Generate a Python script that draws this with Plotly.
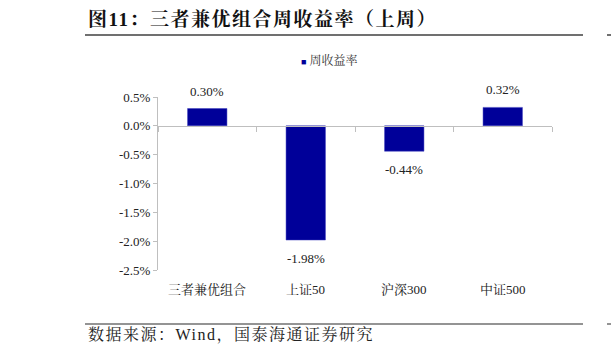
import plotly.graph_objects as go

categories = ["三者兼优组合", "上证50", "沪深300", "中证500"]
returns = [0.30, -1.98, -0.44, 0.32]
labels = ["0.30%", "-1.98%", "-0.44%", "0.32%"]
ytick_vals = [0.5, 0.0, -0.5, -1.0, -1.5, -2.0, -2.5]
ytick_text = ["0.5%", "0.0%", "-0.5%", "-1.0%", "-1.5%", "-2.0%", "-2.5%"]
series_name = "周收益率"
title_text = "图11：三者兼优组合周收益率（上周）"
source_text = "数据来源：Wind，国泰海通证券研究"

W, H = 611, 354
L, R, T, B = 158, 59, 97, 84
pw, ph = W - L - R, H - T - B

def px_x(x):
    return (x - L) / pw

def px_y(y):
    return (H - B - y) / ph

serif = "Liberation Serif, Times New Roman, serif"
cjk = "Liberation Serif, Noto Serif CJK SC, Noto Sans CJK SC, serif"
bar_color = "#000099"

fig = go.Figure()
fig.add_trace(go.Bar(
    x=categories, y=returns, name=series_name,
    marker=dict(color=bar_color, line=dict(color="#3f3fbf", width=0.5)),
    width=0.4, showlegend=False,
))

ymin, ymax = -2.5, 0.5
zero_pos = (0 - ymin) / (ymax - ymin)

fig.update_layout(
    width=W, height=H,
    margin=dict(l=L, r=R, t=T, b=B),
    paper_bgcolor="white", plot_bgcolor="white",
    showlegend=False,
    xaxis=dict(anchor="free", position=zero_pos, showline=True,
               linecolor="#bfbfbf", linewidth=1, ticks="outside",
               tickson="boundaries", ticklen=5, tickcolor="#bfbfbf",
               showticklabels=False, showgrid=False, zeroline=False),
    yaxis=dict(range=[ymin, ymax], tickvals=ytick_vals, ticktext=ytick_text,
               showline=True, linecolor="#bfbfbf", linewidth=1,
               ticks="outside", ticklen=4, tickcolor="#bfbfbf",
               showgrid=False, zeroline=False,
               tickfont=dict(family=serif, size=13, color="#222222")),
    bargap=0.6,
)

annotations = []
# data labels
for c, v, t in zip(categories, returns, labels):
    annotations.append(dict(x=c, xref="x", y=v, yref="y", text=t,
                            showarrow=False,
                            yanchor="bottom" if v >= 0 else "top",
                            yshift=8 if v >= 0 else -9,
                            font=dict(family=serif, size=13, color="#222222")))
# category labels
for c in categories:
    annotations.append(dict(x=c, xref="x", y=px_y(289), yref="paper",
                            text=c, showarrow=False, yanchor="middle",
                            font=dict(family=cjk, size=13, color="#222222")))
# legend
annotations.append(dict(x=px_x(299), xref="paper", y=px_y(60), yref="paper",
                        xanchor="left", yanchor="middle", showarrow=False,
                        text="<span style='color:%s;font-size:9px'>■</span> %s" % (bar_color, series_name),
                        font=dict(family=cjk, size=12, color="#333333")))
annotations.append(dict(x=px_x(86), xref="paper", y=px_y(20), yref="paper",
                        xanchor="left", yanchor="middle", showarrow=False,
                        text="<b><span style='letter-spacing:1.5px'>" + title_text + "</span></b>",
                        font=dict(family=cjk, size=19, color="#111111")))
annotations.append(dict(x=px_x(86), xref="paper", y=px_y(335), yref="paper",
                        xanchor="left", yanchor="middle", showarrow=False,
                        text="<span style='letter-spacing:1.5px'>" + source_text + "</span>",
                        font=dict(family=cjk, size=16, color="#222222")))
fig.update_layout(annotations=annotations)

shapes = [
    dict(type="line", xref="paper", yref="paper", x0=px_x(85), x1=px_x(583),
         y0=px_y(35), y1=px_y(35), line=dict(color="#707070", width=2)),
    dict(type="line", xref="paper", yref="paper", x0=px_x(85), x1=px_x(583),
         y0=px_y(324), y1=px_y(324), line=dict(color="#707070", width=1.5)),
    dict(type="line", xref="paper", yref="paper", x0=px_x(607), x1=px_x(611),
         y0=px_y(35), y1=px_y(35), line=dict(color="#707070", width=2)),
    dict(type="line", xref="paper", yref="paper", x0=px_x(607), x1=px_x(611),
         y0=px_y(324), y1=px_y(324), line=dict(color="#707070", width=1.5)),
]
fig.update_layout(shapes=shapes)

fig.write_html("out.html")
